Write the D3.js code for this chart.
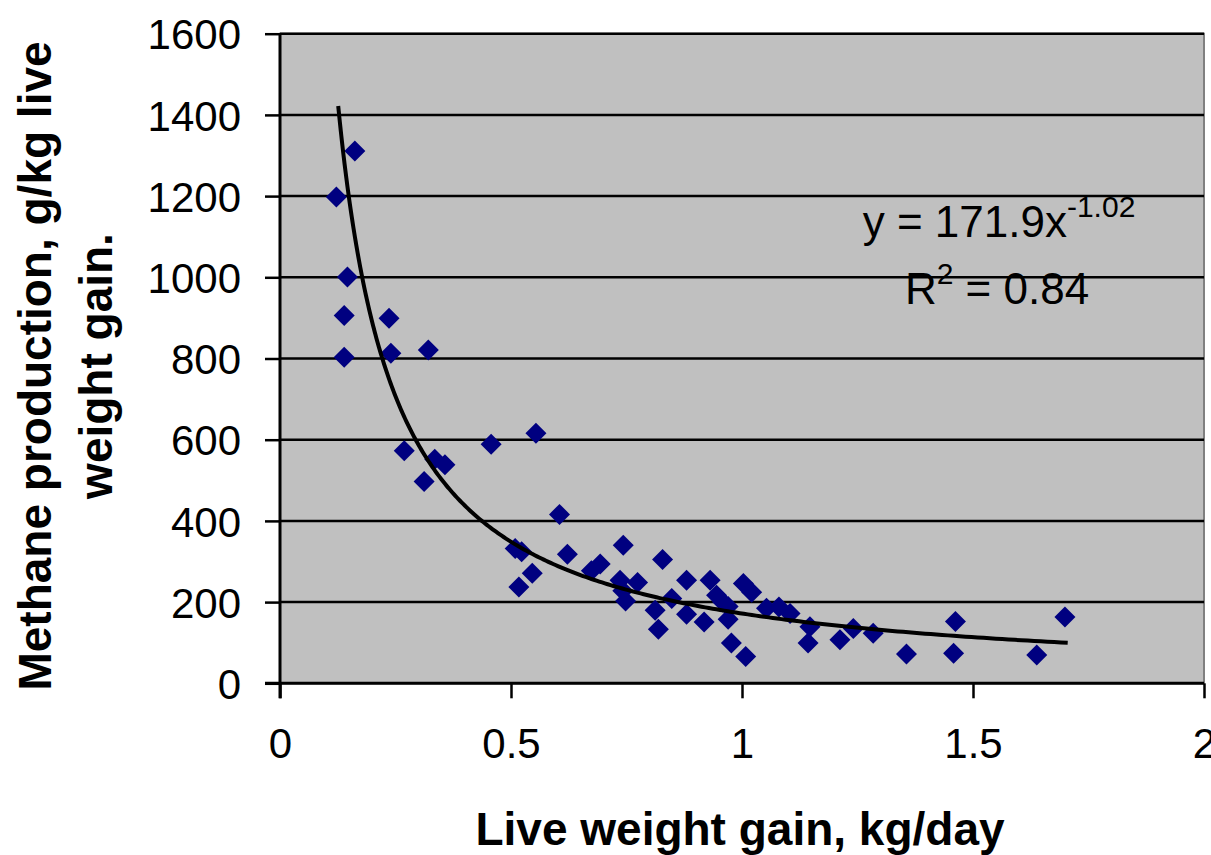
<!DOCTYPE html>
<html><head><meta charset="utf-8">
<script src="https://cdn.jsdelivr.net/npm/d3@7"></script>
<style>html,body{margin:0;padding:0;background:#fff;}svg{display:block;}</style>
</head><body>
<svg id="chart" width="1211" height="855"></svg>
<script>
// Data
const gainKgDay = [0.122,0.162,0.146,0.139,0.139,0.236,0.240,0.321,0.269,0.312,0.335,0.357,0.457,0.554,0.605,
  0.509,0.523,0.517,0.546,0.622,0.674,0.693,0.743,0.736,0.742,0.748,0.774,0.812,0.819,0.828,0.848,0.880,0.880,
  0.918,0.931,0.945,0.958,0.970,0.970,0.977,1.008,1.003,1.021,1.053,1.080,1.104,1.147,1.143,1.212,1.241,1.284,
  1.356,1.462,1.458,1.638,1.699];
const methane = [1198,1311,1001,906,803,899,813,821,573,497,552,538,589,616,416,
  332,324,237,271,318,277,294,340,254,228,203,248,180,133,305,209,254,170,
  151,254,217,200,189,158,99,66,246,224,185,188,172,139,99,107,135,123,
  72,152,74,70,163];
const xTicks = [0, 0.5, 1, 1.5, 2];
const yTicks = [0, 200, 400, 600, 800, 1000, 1200, 1400, 1600];
const xTickLabels = ["0", "0.5", "1", "1.5", "2"];
// Power trendline shown on the chart: y = 171.9 x^-1.02
const trendCoef = 171.9, trendExp = -1.02, trendRange = [0.126, 1.705];

const svg = d3.select("#chart");
const L = 280, R = 1204, T = 33.7, B = 683.3;
const x = d3.scaleLinear().domain([0, 2]).range([L, R]);
const y = d3.scaleLinear().domain([0, 1600]).range([B, T]);
const font = "'Liberation Sans', Arial, sans-serif";

// plot area
svg.append("rect").attr("x", L).attr("y", T).attr("width", R - L).attr("height", B - T)
  .attr("fill", "#C0C0C0").attr("stroke", "#808080").attr("stroke-width", 2);

// gridlines
svg.append("g").selectAll("line").data(yTicks.filter(d => d > 0)).join("line")
  .attr("x1", L).attr("x2", R).attr("y1", d => y(d)).attr("y2", d => y(d))
  .attr("stroke", "#000").attr("stroke-width", 2.5);

// y axis
const yAxis = d3.axisLeft(y).tickValues(yTicks).tickSize(15).tickPadding(24).tickFormat(d3.format("d"));
const gy = svg.append("g").attr("transform", `translate(${L},0)`).call(yAxis);
gy.select(".domain").remove();
gy.selectAll(".tick line").attr("stroke", "#000").attr("stroke-width", 2.5);
gy.selectAll(".tick text").attr("font-family", font).attr("font-size", 42).attr("fill", "#000").attr("dy", "0.36em");
svg.append("line").attr("x1", L).attr("x2", L).attr("y1", T).attr("y2", B + 15)
  .attr("stroke", "#000").attr("stroke-width", 3);

// x axis
const xAxis = d3.axisBottom(x).tickValues(xTicks).tickSize(15).tickPadding(30)
  .tickFormat((d, i) => xTickLabels[i]);
const gx = svg.append("g").attr("transform", `translate(0,${B})`).call(xAxis);
gx.select(".domain").remove();
gx.selectAll(".tick line").attr("stroke", "#000").attr("stroke-width", 2.5);
gx.selectAll(".tick text").attr("font-family", font).attr("font-size", 42).attr("fill", "#000");
svg.append("line").attr("x1", L - 15).attr("x2", R).attr("y1", B).attr("y2", B)
  .attr("stroke", "#000").attr("stroke-width", 3);

// points
const pts = gainKgDay.map((g, i) => ({ g, m: methane[i] }));
const h = 10.5;
svg.append("g").selectAll("path").data(pts).join("path")
  .attr("d", d => `M${x(d.g)},${y(d.m) - h}L${x(d.g) + h},${y(d.m)}L${x(d.g)},${y(d.m) + h}L${x(d.g) - h},${y(d.m)}Z`)
  .attr("fill", "#000080");

// trendline
const tx = d3.range(0, 301).map(i => trendRange[0] * Math.pow(trendRange[1] / trendRange[0], i / 300));
const line = d3.line().x(d => x(d)).y(d => y(trendCoef * Math.pow(d, trendExp)));
svg.append("path").datum(tx).attr("d", line).attr("fill", "none")
  .attr("stroke", "#000").attr("stroke-width", 4);

// equation label
const eq = svg.append("text").attr("font-family", font).attr("font-size", 44).attr("fill", "#000")
  .attr("text-anchor", "middle");
const l1 = eq.append("tspan").attr("x", 999).attr("y", 237);
l1.append("tspan").text("y = 171.9x");
l1.append("tspan").attr("font-size", 30).attr("dy", -20).text("-1.02");
const eq2 = svg.append("text").attr("font-family", font).attr("font-size", 44).attr("fill", "#000")
  .attr("text-anchor", "middle").attr("x", 997).attr("y", 304);
eq2.append("tspan").text("R");
eq2.append("tspan").attr("font-size", 30).attr("dy", -20).text("2");
eq2.append("tspan").attr("dy", 20).text(" = 0.84");

// axis titles
svg.append("text").attr("x", 740).attr("y", 845).attr("text-anchor", "middle")
  .attr("font-family", font).attr("font-weight", "bold").attr("font-size", 46).attr("fill", "#000")
  .text("Live weight gain, kg/day");
const yt = svg.append("text").attr("transform", "translate(0,366) rotate(-90)").attr("text-anchor", "middle")
  .attr("font-family", font).attr("font-weight", "bold").attr("font-size", 46).attr("fill", "#000");
yt.append("tspan").attr("x", 0).attr("y", 51).text("Methane production, g/kg live");
yt.append("tspan").attr("x", 0).attr("y", 112).text("weight gain.");
</script>
</body></html>
